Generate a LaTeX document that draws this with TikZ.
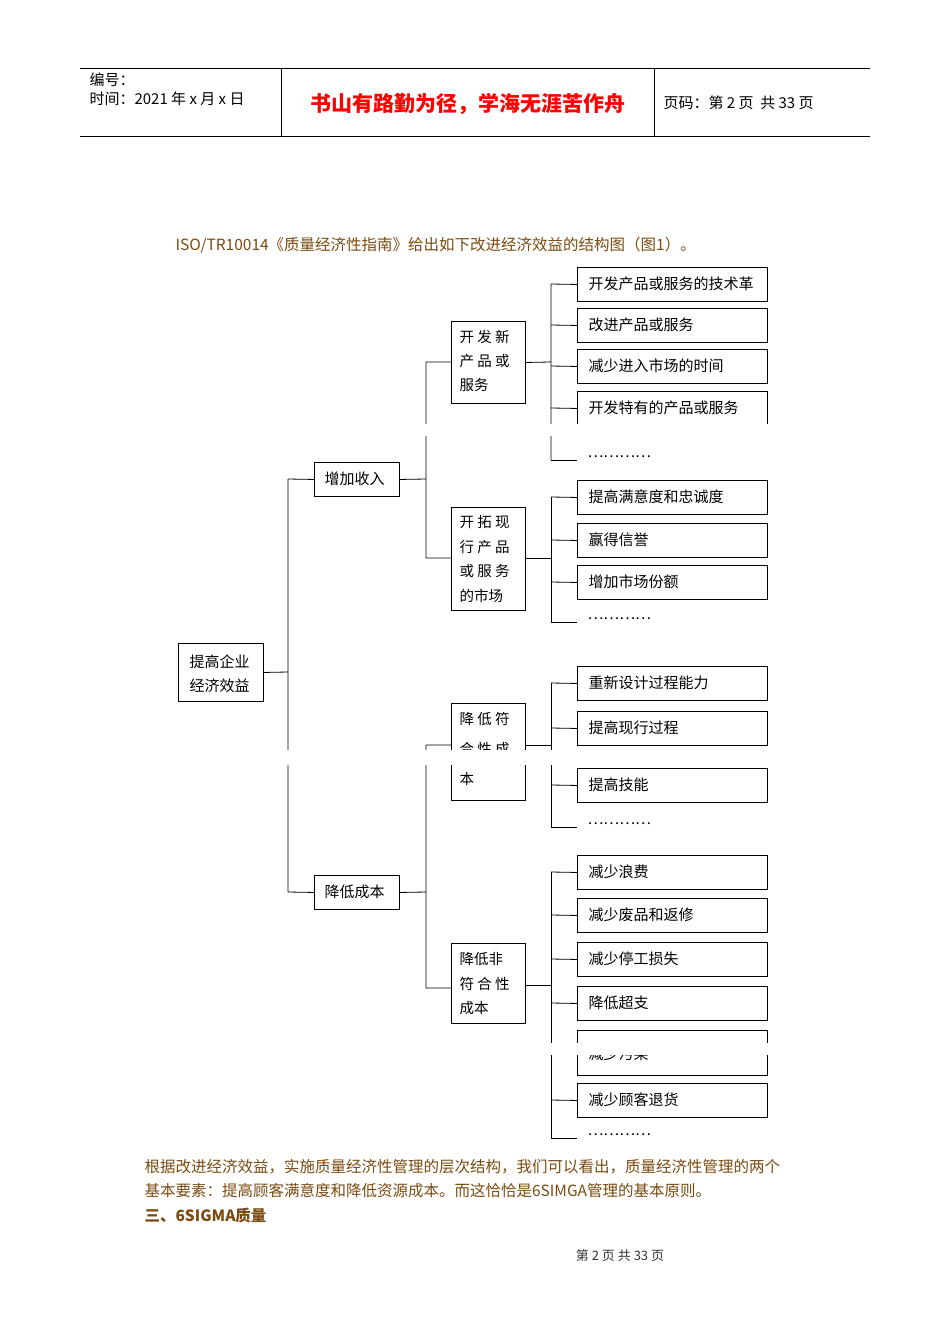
\documentclass[tikz,border=0pt]{standalone}
\usepackage{fontspec}
\setmainfont{Noto Sans CJK SC}
\definecolor{brn}{HTML}{7A4A10}
\begin{document}
\begin{tikzpicture}[x=1pt,y=-1pt,
  bx/.style={draw,line width=0.9pt,anchor=north west,inner sep=0pt},
  lbl/.style={anchor=west,font=\fontsize{15}{17}\selectfont},
  ln/.style={line width=0.8pt}]
\useasboundingbox (0,0) rectangle (950,1344);
% header
\draw[line width=0.6pt] (80,68) -- (870,68) (80,136) -- (870,136) (281,68) -- (281,136) (654,68) -- (654,136);
\node[anchor=west,font=\fontsize{15}{17}\selectfont] (h1) at (86,80) {编号：};
\node[anchor=west,font=\fontsize{15}{17}\selectfont] (h2) at (86,99) {时间：2021 年 x 月 x 日};
\node[anchor=center,text=red,font=\fontsize{21}{24}\selectfont\bfseries] (h3) at (468,104) {书山有路勤为径，学海无涯苦作舟};
\node[anchor=west,font=\fontsize{15}{17}\selectfont] (h4) at (660,103) {页码：第 2 页\ \ 共 33 页};
\node[anchor=west,text=brn,font=\fontsize{15.5}{17}\selectfont] (t0) at (172,245) {ISO/TR10014《质量经济性指南》给出如下改进经济效益的结构图（图1）。};
% level 0/1
\node[bx,minimum width=85,minimum height=58] (root) at (178,643) {};
\node[anchor=west,align=left,font=\fontsize{15}{24}\selectfont] (rt) at (186,674) {提高企业\\经济效益};
\node[bx,minimum width=85,minimum height=34] (a) at (314,462) {};
\node[lbl] at (321,479) {增加收入};
\node[bx,minimum width=85,minimum height=34] (b) at (314,875) {};
\node[lbl] at (321,892) {降低成本};
\draw[ln] (root.east) -- (288,672) (288,479) -- (288,892) (288,479) -- (a.west) (288,892) -- (b.west);
% level 2
\node[bx,minimum width=74,minimum height=82] (a1) at (451,321) {};
\node[anchor=north west,align=left,font=\fontsize{14.5}{24}\selectfont] at (456,327) {开 发 新\\产 品 或\\服务};
\node[bx,minimum width=74,minimum height=103] (a2) at (451,507) {};
\node[anchor=north west,align=left,font=\fontsize{14.5}{24.5}\selectfont] at (456,512) {开 拓 现\\行 产 品\\或 服 务\\的市场};
\node[bx,minimum width=74,minimum height=97] (b1) at (451,703) {};
\node[anchor=north west,align=left,font=\fontsize{14.5}{30}\selectfont] at (456,709) {降 低 符\\合 性 成\\本};
\node[bx,minimum width=74,minimum height=80] (b2) at (451,943) {};
\node[anchor=north west,align=left,font=\fontsize{14.5}{24.5}\selectfont] at (456,949) {降低非\\符 合 性\\成本};
\draw[ln] (a.east) -- (426,479) (426,362) -- (426,558) (426,362) -- (451,362) (426,558) -- (451,558);
\draw[ln] (b.east) -- (426,892) (426,745) -- (426,988) (426,745) -- (451,745) (426,988) -- (451,988);
% level 3
\foreach \y/\t [count=\i] in {267/开发产品或服务的技术革,308/改进产品或服务,349/减少进入市场的时间,391/开发特有的产品或服务,
 480/提高满意度和忠诚度,523/赢得信誉,565/增加市场份额,
 666/重新设计过程能力,711/提高现行过程,768/提高技能,
 855/减少浪费,898/减少废品和返修,942/减少停工损失,986/降低超支,1083/减少顾客退货}{
  \node[bx,minimum width=190,minimum height=34] (c\i) at (577,\y) {};
  \node[lbl] at (585,\y+17) {\t};
  \draw[ln] (551,\y+17) -- (c\i.west);
}
\node[bx,minimum width=190,minimum height=45] (cp) at (577,1030) {};
\node[lbl] at (585,1054) {减少污染};
\draw[ln] (551,1052) -- (cp.west);
\foreach \y [count=\i] in {460,622,827,1138}{
  \draw[ln] (551,\y) -- (577,\y);
  \node[lbl] (d\i) at (584,\y-3) {…………};
}
\draw[ln] (551,284) -- (551,460) (a1.east) -- (551,362);
\draw[ln] (551,497) -- (551,622) (525,558) -- (551,558);
\draw[ln] (551,683) -- (551,827) (525,745) -- (551,745);
\draw[ln] (551,872) -- (551,1138) (525,985) -- (551,985);
% page-break gaps
\fill[white] (395,424) rectangle (780,436);
\fill[white] (280,750) rectangle (560,765);
\fill[white] (540,1043) rectangle (780,1055);
% bottom text
\node[anchor=west,text=brn,font=\fontsize{15.5}{17}\selectfont] (p1) at (141,1167) {根据改进经济效益，实施质量经济性管理的层次结构，我们可以看出，质量经济性管理的两个};
\node[anchor=west,text=brn,font=\fontsize{15.5}{17}\selectfont] (p2) at (141,1191) {基本要素：提高顾客满意度和降低资源成本。而这恰恰是6SIMGA管理的基本原则。};
\node[anchor=west,text=brn,font=\fontsize{15.5}{17}\selectfont\bfseries] (p3) at (141,1216) {三、6SIGMA质量};
\node[font=\fontsize{13}{15}\selectfont,text=black!80] (ft) at (620,1256) {第 2 页 共 33 页};
\end{tikzpicture}
\end{document}
